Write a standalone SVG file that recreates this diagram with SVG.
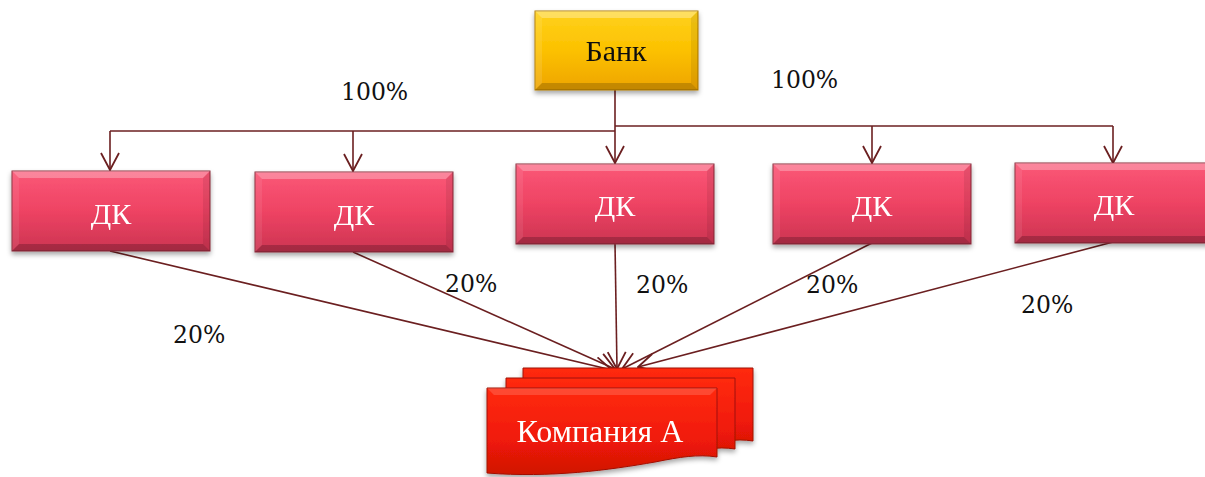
<svg xmlns="http://www.w3.org/2000/svg" xmlns:xlink="http://www.w3.org/1999/xlink" width="1205" height="477" viewBox="0 0 1205 477">
<style>
.lbl{font-family:"DejaVu Serif","Liberation Serif",serif;font-size:23.5px;fill:#111}
.nt{font-family:"Liberation Serif","Times New Roman",serif;font-size:30px;text-anchor:middle}
.w{fill:#fff}
.k{fill:#111}
.con{fill:none;stroke:#6b1f20;stroke-width:1.6}
</style>
<defs>
<filter id="sh" x="-10%" y="-10%" width="120%" height="130%">
<feDropShadow dx="0" dy="3" stdDeviation="2.5" flood-color="#000" flood-opacity="0.35"/>
</filter>
<linearGradient id="gDK" x1="0" y1="0" x2="0" y2="1">
<stop offset="0" stop-color="#fb5877"/>
<stop offset="0.5" stop-color="#ee4363"/>
<stop offset="1" stop-color="#cc3452"/>
</linearGradient>
<linearGradient id="gBank" x1="0" y1="0" x2="0" y2="1">
<stop offset="0" stop-color="#ffd21c"/>
<stop offset="0.5" stop-color="#fcc100"/>
<stop offset="1" stop-color="#eea400"/>
</linearGradient>
<linearGradient id="gRed" x1="0" y1="0" x2="0" y2="1">
<stop offset="0" stop-color="#ff2a10"/>
<stop offset="0.6" stop-color="#f01a08"/>
<stop offset="1" stop-color="#d01404"/>
</linearGradient>
<marker id="ah" viewBox="0 0 20 20" refX="19" refY="10" markerWidth="20" markerHeight="20" markerUnits="userSpaceOnUse" orient="auto">
<path d="M2,1 L19,10 L2,19" fill="none" stroke="#6b1f20" stroke-width="1.8"/>
</marker>
<g id="dk">
<rect x="0" y="0" width="198" height="80" fill="url(#gDK)" stroke="#8a2a3a" stroke-width="1"/>
<polygon points="0,0 198,0 191,7 7,7" fill="#fff" fill-opacity="0.28"/>
<polygon points="0,0 7,7 7,73 0,80" fill="#fff" fill-opacity="0.08"/>
<polygon points="198,0 191,7 191,73 198,80" fill="#000" fill-opacity="0.08"/>
<polygon points="0,80 7,73 191,73 198,80" fill="#000" fill-opacity="0.2"/>
</g>
</defs>

<g id="connectors">
<polyline class="con" points="615,90 615,131"/>
<polyline class="con" points="110,131 615,131"/>
<polyline class="con" points="615,126 1113,126"/>
<line class="con" x1="110" y1="131" x2="110" y2="170" marker-end="url(#ah)"/>
<line class="con" x1="353" y1="131" x2="353" y2="171" marker-end="url(#ah)"/>
<line class="con" x1="615" y1="131" x2="615" y2="163" marker-end="url(#ah)"/>
<line class="con" x1="872" y1="126" x2="872" y2="163" marker-end="url(#ah)"/>
<line class="con" x1="1113" y1="126" x2="1113" y2="163" marker-end="url(#ah)"/>
<line class="con" x1="110" y1="251" x2="612" y2="370" marker-end="url(#ah)"/>
<line class="con" x1="353" y1="252" x2="615" y2="369" marker-end="url(#ah)"/>
<line class="con" x1="615" y1="243" x2="617" y2="369" marker-end="url(#ah)"/>
<line class="con" x1="872" y1="243" x2="622" y2="369" marker-end="url(#ah)"/>
<line class="con" x1="1113" y1="242" x2="638" y2="367" marker-end="url(#ah)"/>
</g>

<g id="labels">
<text class="lbl" x="341" y="100">100%</text>
<text class="lbl" x="771" y="88">100%</text>
<text class="lbl" x="173" y="343">20%</text>
<text class="lbl" x="445" y="292">20%</text>
<text class="lbl" x="636" y="293">20%</text>
<text class="lbl" x="806" y="293">20%</text>
<text class="lbl" x="1021" y="313">20%</text>
</g>

<g id="bank" filter="url(#sh)">
<rect x="535" y="11" width="163" height="79" fill="url(#gBank)" stroke="#b07a00" stroke-width="1"/>
<polygon points="535,11 698,11 691,18 542,18" fill="#fff" fill-opacity="0.3"/>
<polygon points="535,11 542,18 542,83 535,90" fill="#fff" fill-opacity="0.1"/>
<polygon points="698,11 691,18 691,83 698,90" fill="#000" fill-opacity="0.08"/>
<polygon points="535,90 542,83 691,83 698,90" fill="#000" fill-opacity="0.18"/>
<text class="nt k" x="616" y="61">Банк</text>
</g>

<g id="dk1" filter="url(#sh)">
<use xlink:href="#dk" x="12" y="171"/>
<text class="nt w" x="111" y="224">ДК</text>
</g>
<g id="dk2" filter="url(#sh)">
<use xlink:href="#dk" x="255" y="172"/>
<text class="nt w" x="354" y="225">ДК</text>
</g>
<g id="dk3" filter="url(#sh)">
<use xlink:href="#dk" x="516" y="164"/>
<text class="nt w" x="615" y="216">ДК</text>
</g>
<g id="dk4" filter="url(#sh)">
<use xlink:href="#dk" x="773" y="164"/>
<text class="nt w" x="872" y="216">ДК</text>
</g>
<g id="dk5" filter="url(#sh)">
<use xlink:href="#dk" x="1015" y="163"/>
<text class="nt w" x="1114" y="215">ДК</text>
</g>

<g id="companyA" filter="url(#sh)">
<path d="M523,368 H753 V441 C735,438 720,442 700,446 C660,452 600,458 523,456 Z" fill="url(#gRed)" stroke="#a01006" stroke-width="1"/>
<path d="M506,378 H735 V449 C717,446 700,450 680,454 C640,460 580,466 506,464 Z" fill="url(#gRed)" stroke="#a01006" stroke-width="1"/>
<path d="M487,388 H717 V457 C698,454 680,457 655,462 C610,470 550,478 487,473 Z" fill="url(#gRed)" stroke="#a01006" stroke-width="1"/>
<polygon points="487,388 717,388 710,395 494,395" fill="#fff" fill-opacity="0.15"/>
<text class="nt w" x="600" y="442" style="font-size:32px">Компания А</text>
</g>
</svg>
